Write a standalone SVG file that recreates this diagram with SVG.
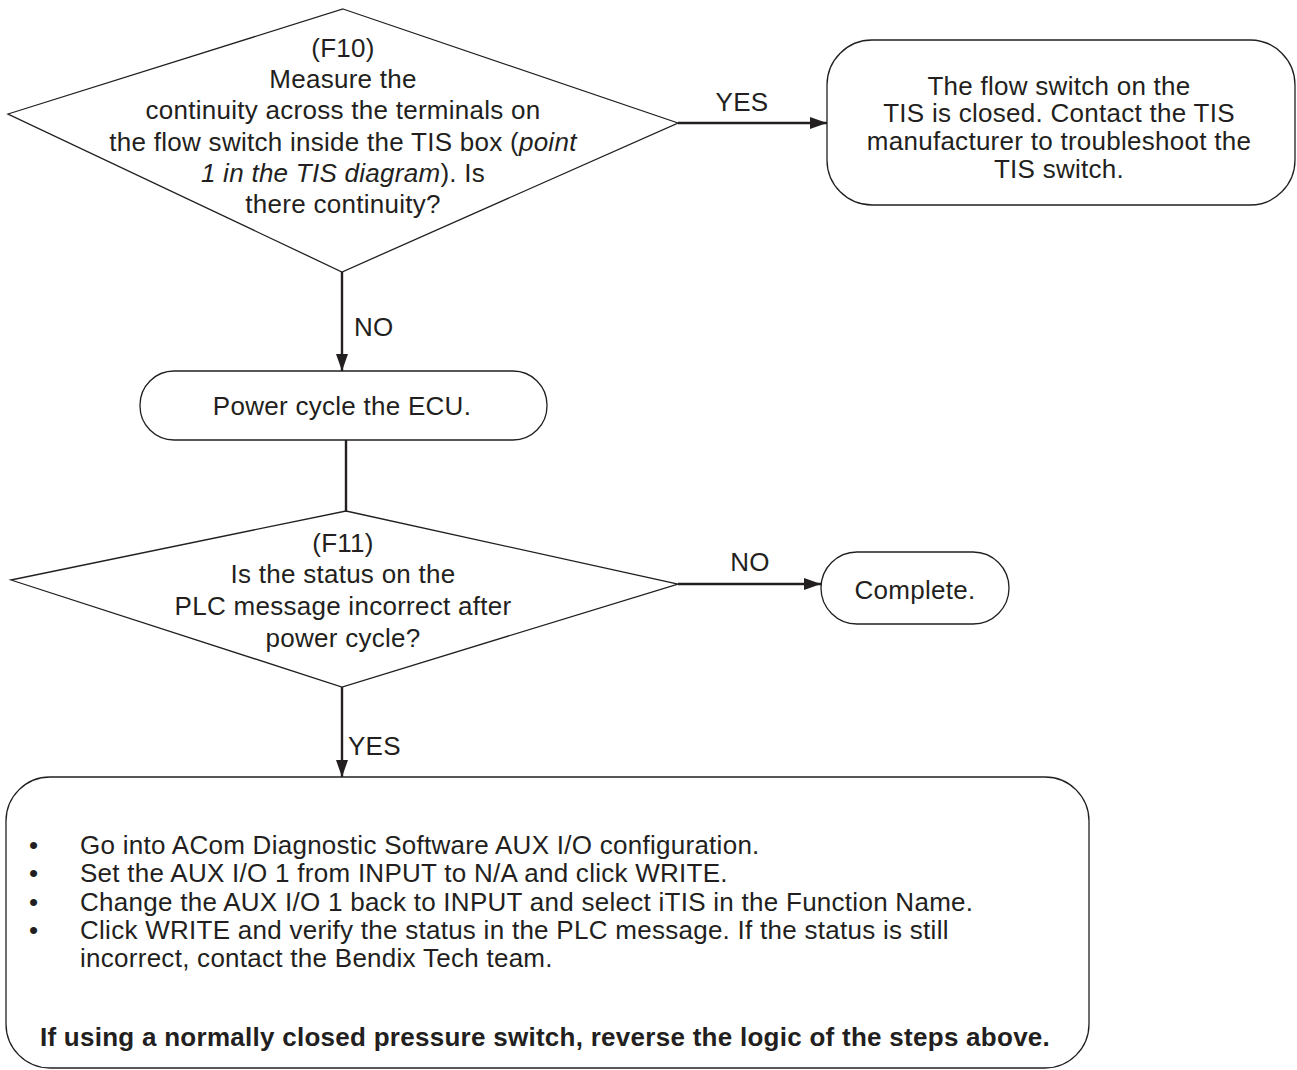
<svg xmlns="http://www.w3.org/2000/svg" width="1297" height="1070" viewBox="0 0 1297 1070">
  <style>
    .shape { fill: #ffffff; stroke: #231f20; stroke-width: 1.3; }
    .link { fill: none; stroke: #231f20; stroke-width: 2.4; }
    text { font-family: "Liberation Sans", Arial, sans-serif; font-size: 26px; letter-spacing: 0.27px; fill: #231f20; }
    .c { text-anchor: middle; }
    .b { font-weight: bold; }
    .i { font-style: italic; }
  </style>
  <defs>
    <marker id="arrow" viewBox="0 0 17 12" refX="17" refY="6" markerWidth="17" markerHeight="12" markerUnits="userSpaceOnUse" orient="auto">
      <path d="M0,0 L17,6 L0,12 Z" fill="#231f20"/>
    </marker>
  </defs>
  <rect width="1297" height="1070" fill="#ffffff"/>

  <!-- connectors -->
  <g id="connectors">
    <line class="link" x1="678" y1="123" x2="827" y2="123" marker-end="url(#arrow)"/>
    <text x="742" y="111" class="c">YES</text>
    <line class="link" x1="342" y1="272" x2="342" y2="371" marker-end="url(#arrow)"/>
    <text x="354" y="336">NO</text>
    <line class="link" x1="346" y1="440" x2="346" y2="511"/>
    <line class="link" x1="678" y1="584" x2="821" y2="584" marker-end="url(#arrow)"/>
    <text x="750" y="571" class="c">NO</text>
    <line class="link" x1="342" y1="687" x2="342" y2="777" marker-end="url(#arrow)"/>
    <text x="348" y="755">YES</text>
  </g>

  <!-- F10 decision -->
  <g id="f10">
    <polygon class="shape" points="343,9 678,123 342,272 8,114"/>
    <text class="c" x="343" y="57">(F10)</text>
    <text class="c" x="343" y="88">Measure the</text>
    <text class="c" x="343" y="119">continuity across the terminals on</text>
    <text class="c" x="343" y="151">the flow switch inside the TIS box (<tspan class="i">point</tspan></text>
    <text class="c" x="343" y="182"><tspan class="i">1 in the TIS diagram</tspan>). Is</text>
    <text class="c" x="343" y="213">there continuity?</text>
  </g>

  <!-- TIS switch closed -->
  <g id="tis-closed">
    <rect class="shape" x="827" y="40" width="468" height="165" rx="45" ry="45"/>
    <text class="c" x="1059" y="95">The flow switch on the</text>
    <text class="c" x="1059" y="122">TIS is closed. Contact the TIS</text>
    <text class="c" x="1059" y="150">manufacturer to troubleshoot the</text>
    <text class="c" x="1059" y="178">TIS switch.</text>
  </g>

  <!-- power cycle -->
  <g id="power-cycle">
    <rect class="shape" x="140" y="371" width="407" height="69" rx="34" ry="34"/>
    <text class="c" x="342" y="415">Power cycle the ECU.</text>
  </g>

  <!-- F11 decision -->
  <g id="f11">
    <polygon class="shape" points="346,511 678,584 342,687 11,580"/>
    <text class="c" x="343" y="552">(F11)</text>
    <text class="c" x="343" y="583">Is the status on the</text>
    <text class="c" x="343" y="615">PLC message incorrect after</text>
    <text class="c" x="343" y="647">power cycle?</text>
  </g>

  <!-- complete -->
  <g id="complete">
    <rect class="shape" x="821" y="552" width="188" height="72" rx="36" ry="36"/>
    <text class="c" x="915" y="599">Complete.</text>
  </g>

  <!-- reconfiguration steps -->
  <g id="reconfigure">
    <rect class="shape" x="6" y="777" width="1083" height="291" rx="44" ry="44"/>
    <text x="29" y="854">•</text>
    <text x="80" y="854">Go into ACom Diagnostic Software AUX I/O configuration.</text>
    <text x="29" y="882">•</text>
    <text x="80" y="882">Set the AUX I/O 1 from INPUT to N/A and click WRITE.</text>
    <text x="29" y="911">•</text>
    <text x="80" y="911">Change the AUX I/O 1 back to INPUT and select iTIS in the Function Name.</text>
    <text x="29" y="939">•</text>
    <text x="80" y="939">Click WRITE and verify the status in the PLC message. If the status is still</text>
    <text x="80" y="967">incorrect, contact the Bendix Tech team.</text>
    <text class="c b" x="545" y="1046">If using a normally closed pressure switch, reverse the logic of the steps above.</text>
  </g>
</svg>
